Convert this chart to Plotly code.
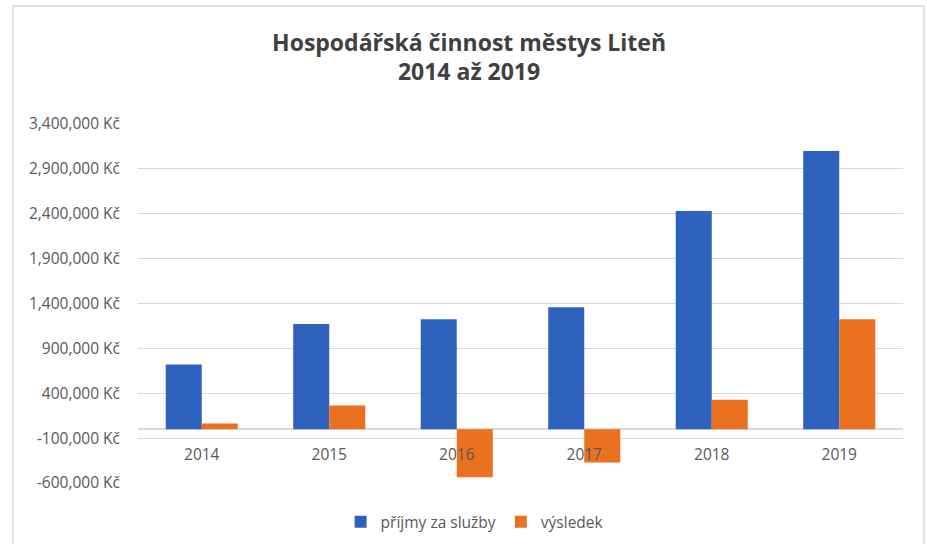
import plotly.graph_objects as go

years = ["2014", "2015", "2016", "2017", "2018", "2019"]
prijmy = [720000, 1172000, 1224000, 1357000, 2430000, 3099000]
vysledek = [64000, 264000, -536000, -372000, 328000, 1224000]
tick_vals = [-600000, -100000, 400000, 900000, 1400000, 1900000, 2400000, 2900000, 3400000]
tick_text = ["-600,000 Kč", "-100,000 Kč", "400,000 Kč", "900,000 Kč", "1,400,000 Kč",
             "1,900,000 Kč", "2,400,000 Kč", "2,900,000 Kč", "3,400,000 Kč"]

FONT = "Open Sans"
fig = go.Figure()
fig.add_trace(go.Bar(x=years, y=prijmy, name="příjmy za služby", marker_color="#2F62BD",
                     marker_line_width=0))
fig.add_trace(go.Bar(x=years, y=vysledek, name="výsledek", marker_color="#E9711F",
                     marker_line_width=0))

fig.update_layout(
    width=927, height=544,
    margin=dict(l=138, r=24, t=124, b=61, autoexpand=False),
    paper_bgcolor="white", plot_bgcolor="white",
    barmode="group", bargap=0.435, bargroupgap=0,
    font=dict(family=FONT, color="#595959", size=15.5),
    title=dict(text="<b>Hospodářská činnost městys Liteň<br>2014 až 2019</b>",
               x=0.506, xanchor="center", y=0.907, yanchor="top",
               font=dict(family=FONT, size=23, color="#404040")),
    showlegend=True,
    legend=dict(orientation="h", x=0.44, xanchor="center", y=-0.109, yanchor="middle",
                font=dict(family=FONT, size=15.5, color="#595959"), itemwidth=30,
                traceorder="normal"),
    xaxis=dict(anchor="free", position=(483 - 428.7) / 359, showgrid=False,
               showline=False, ticks="", tickfont=dict(size=15.5, color="#595959"),
               ticklabelstandoff=15),
    yaxis=dict(range=[-600000, 3400000], tickvals=tick_vals, ticktext=tick_text,
               showgrid=True, gridcolor="#d9d9d9", gridwidth=1,
               zeroline=True, zerolinecolor="#d9d9d9", zerolinewidth=1.5,
               showline=False, ticks="", ticklabelstandoff=17,
               tickfont=dict(size=15.5, color="#595959")),
    shapes=[dict(type="rect", xref="paper", yref="paper",
                 x0=(13 - 138) / 765, x1=(924 - 138) / 765,
                 y0=(483 - 560) / 359, y1=(483 - 6) / 359,
                 line=dict(color="#d9d9d9", width=1.5), fillcolor="rgba(0,0,0,0)",
                 layer="below")],
)

fig.write_html("out.html", post_script="document.body.style.margin='0';",
               config={"displayModeBar": False})
